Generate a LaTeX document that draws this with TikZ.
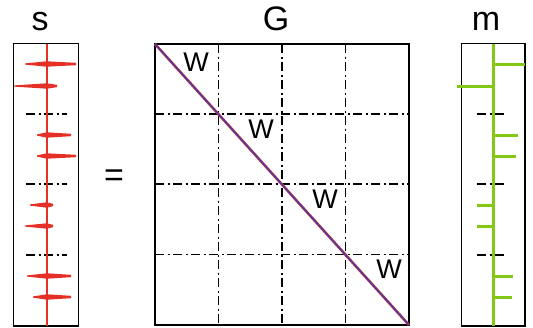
\documentclass[tikz,border=0pt]{standalone}
\usepackage{fontspec}
\setmainfont{Liberation Sans}
\definecolor{sred}{RGB}{228,48,38}
\definecolor{mgreen}{RGB}{130,200,20}
\definecolor{dblue}{RGB}{70,60,170}
\begin{document}
\begin{tikzpicture}[x=1pt,y=-1pt,
  frame/.style={draw=black,line width=1.5pt},
  gridline/.style={draw=black,line width=1.4pt,dash pattern=on 9pt off 3.5pt on 2pt off 3.5pt},
  title/.style={font=\fontsize{34}{34}\selectfont,anchor=base,inner sep=0pt},
  wlabel/.style={font=\fontsize{27}{27}\selectfont,inner sep=0pt},
  gspike/.style={draw=mgreen,line width=3pt}]
\useasboundingbox (0,0) rectangle (533,327);
% titles
\node[title] (ts) at (40,30) {s};
\node[title] (tg) at (276,30) {G};
\node[title] (tm) at (486,30) {m};
\node[font=\fontsize{34}{34}\selectfont,inner sep=0pt] (eq) at (114,178.5) {=};
% s vector
\draw[frame] (13.5,43.5) rectangle (78.5,326);
\foreach \y in {114,184,255} \draw[gridline] (26,\y) -- (67,\y);
\draw[sred,line width=2.2pt] (46.7,43.5) -- (46.7,326);
\foreach \a/\b/\y in {25/76/64, 14/57/86, 37/71/135, 37/76/156, 30/53/205, 25/53/226, 27/71/276, 33/71/297}
  \fill[sred] (\a,\y-0.6) -- (46.7,\y-2.7) -- (\b,\y-1.2) -- (\b,\y+1.2) -- (46.7,\y+2.7) -- (\a,\y+0.6) -- cycle;
% G matrix
\draw[gridline] (218.5,44) -- (218.5,325) (282,44) -- (282,325) (345.5,44) -- (345.5,325);
\draw[gridline] (155,114) -- (409,114) (155,184) -- (409,184) (155,254.5) -- (409,254.5);
\draw[frame] (155,44) rectangle (409,325);
\coordinate (g1) at (155,44);
\coordinate (g2) at (409,325);
\draw[sred,line width=2.6pt] (g1) -- (g2);
\draw[dblue,line width=1.5pt] (g1) -- (g2);
\node[wlabel] (w1) at (196,62) {W};
\node[wlabel] (w2) at (261,129) {W};
\node[wlabel] (w3) at (325,199) {W};
\node[wlabel] (w4) at (389,269) {W};
% m vector
\draw[frame] (461.7,43.5) rectangle (525,326);
\foreach \y in {114,184,255} \draw[gridline] (477,\y) -- (507,\y);
\draw[mgreen,line width=2.6pt] (493.3,43.5) -- (493.3,326);
\foreach \a/\b/\y in {493.3/525/64, 457/493.3/86, 493.3/517.5/135, 493.3/516/156, 477/493.3/205, 477/493.3/226, 493.3/512.5/276, 493.3/511.5/297}
  \draw[gspike] (\a,\y) -- (\b,\y);
\end{tikzpicture}
\end{document}
